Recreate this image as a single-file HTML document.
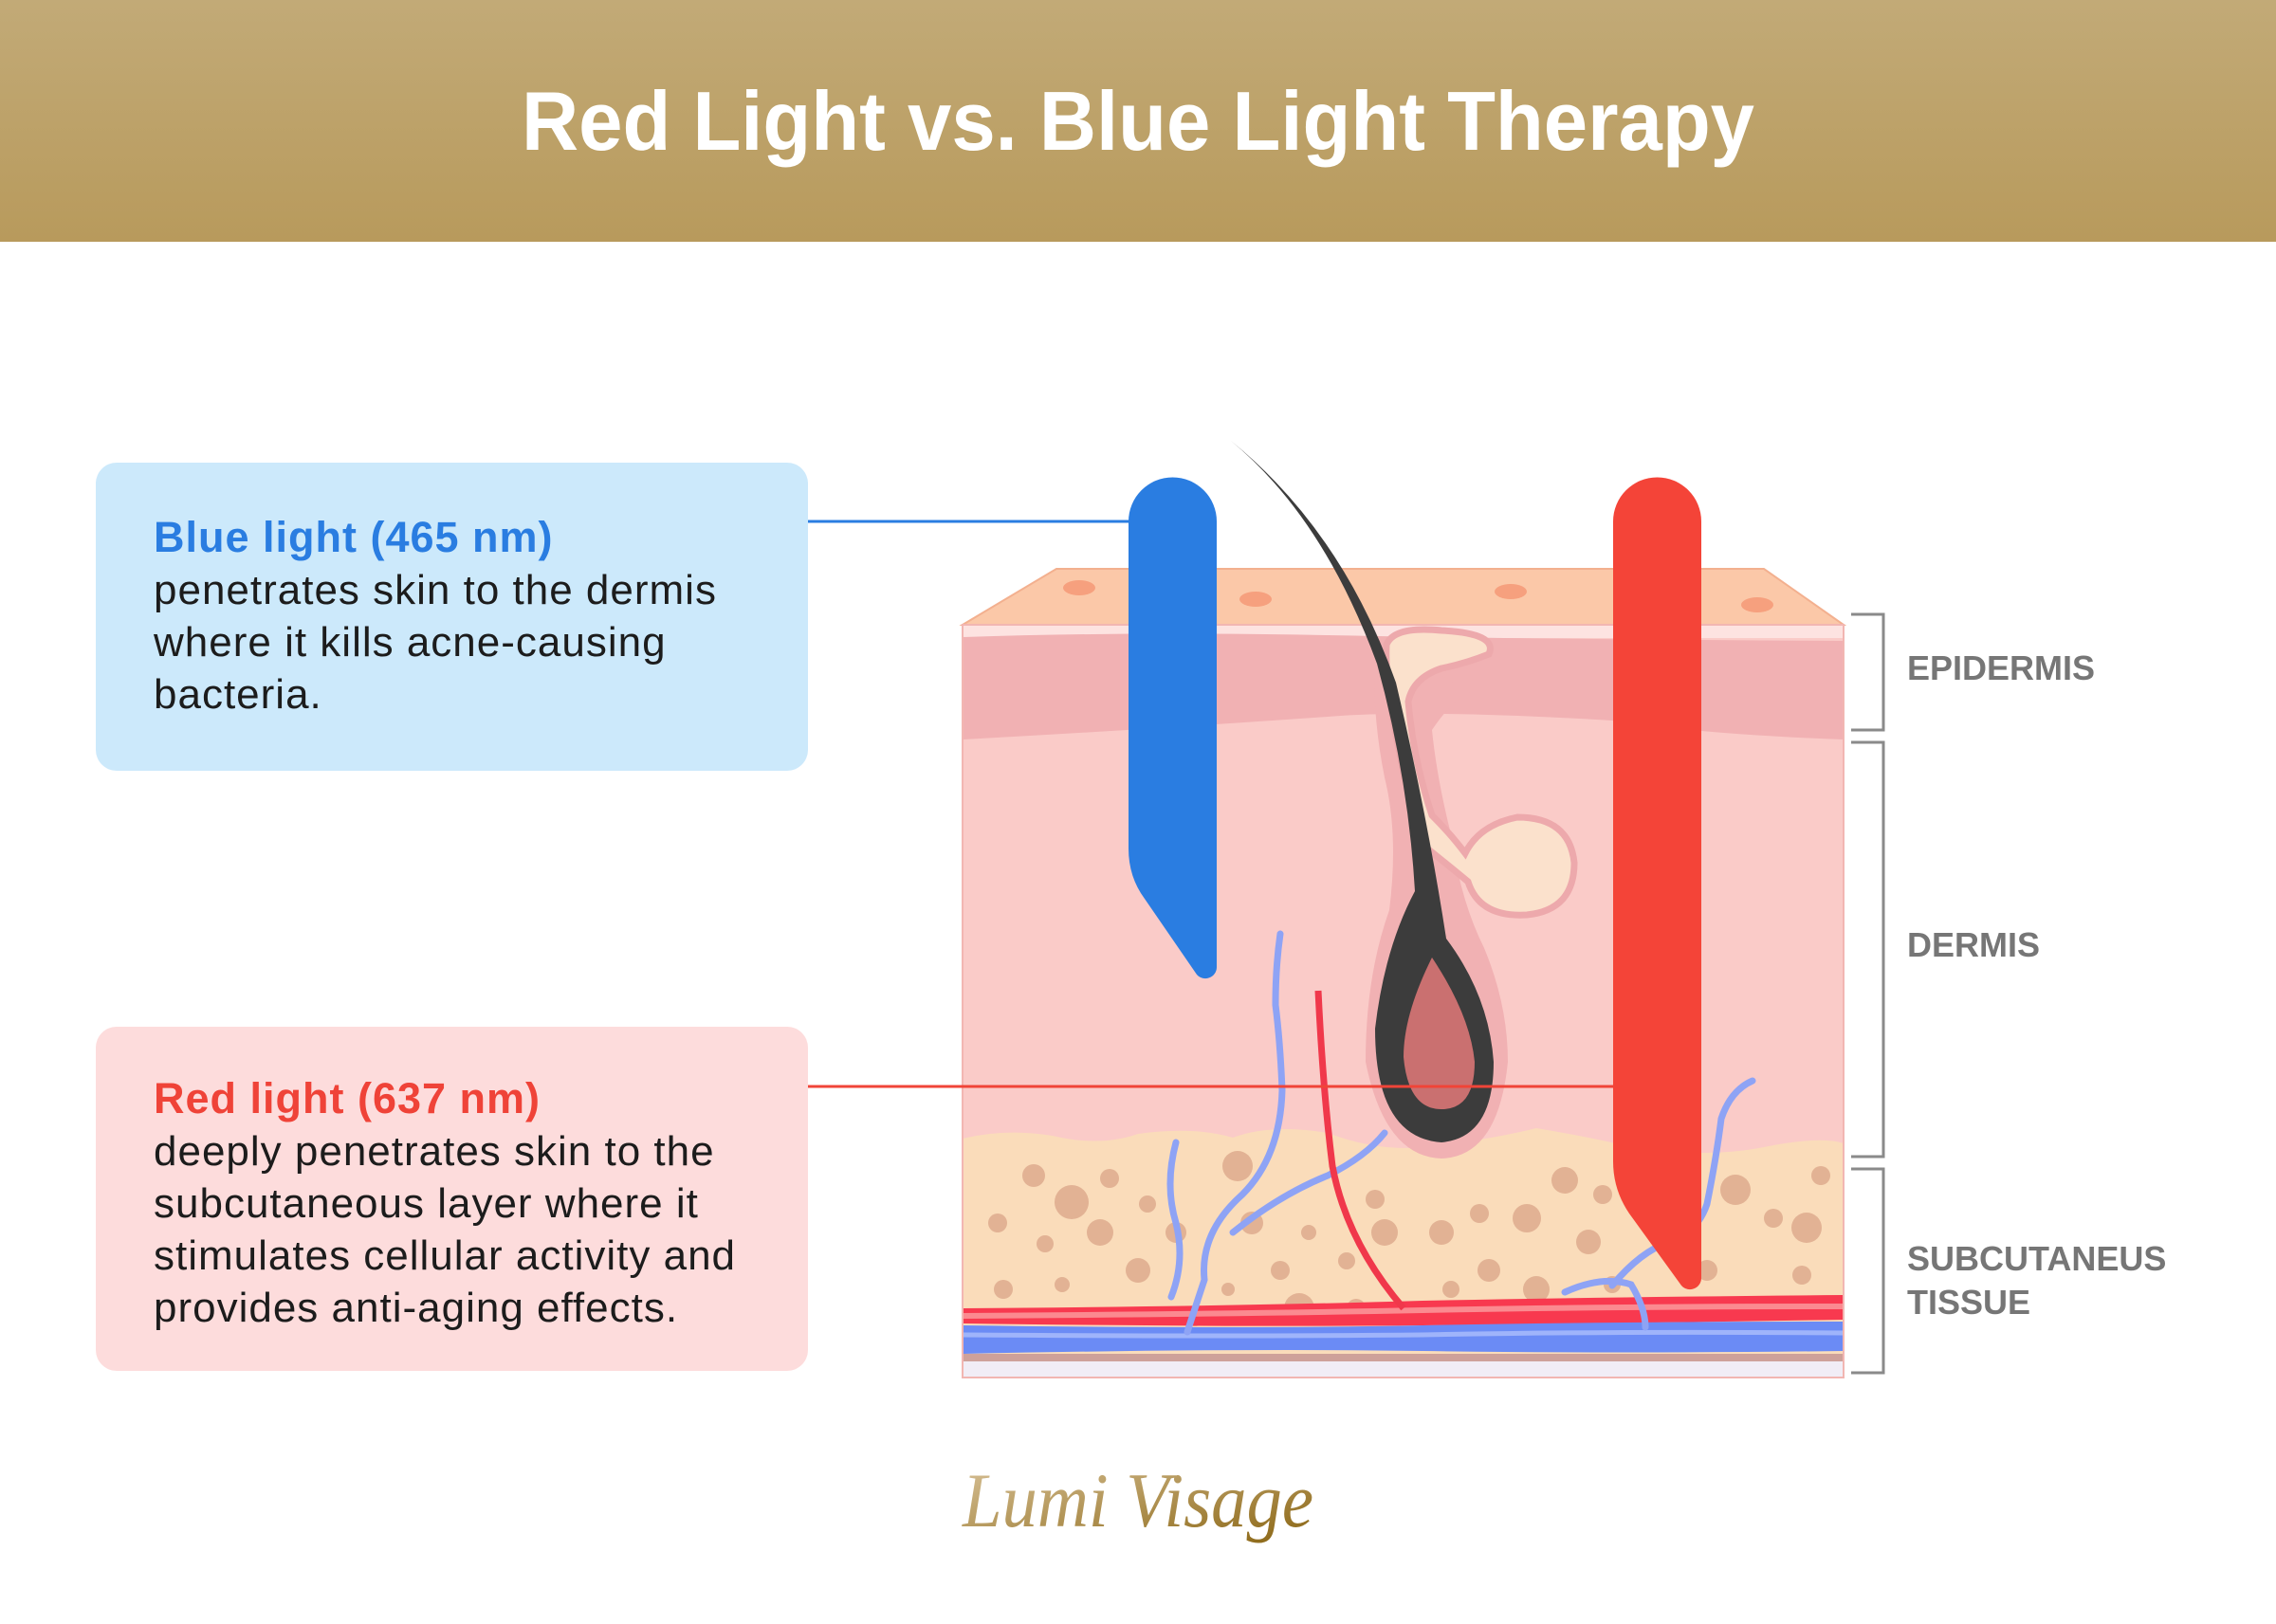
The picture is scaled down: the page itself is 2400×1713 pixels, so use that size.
<!DOCTYPE html>
<html><head><meta charset="utf-8"><style>html,body{margin:0;padding:0;background:#fff}svg{display:block}</style></head>
<body>
<svg width="2400" height="1713" viewBox="0 0 2400 1713" xmlns="http://www.w3.org/2000/svg" font-family="Liberation Sans, sans-serif">
<defs>
<linearGradient id="hdr" x1="0" y1="0" x2="0" y2="1"><stop offset="0" stop-color="#c2aa77"/><stop offset="1" stop-color="#b89a5c"/></linearGradient>
<linearGradient id="gold" x1="0" y1="0" x2="1" y2="1"><stop offset="0" stop-color="#d9c39a"/><stop offset="1" stop-color="#8a6512"/></linearGradient>
<clipPath id="blk"><rect x="1015" y="659" width="929" height="794"/></clipPath>
</defs>
<rect width="2400" height="1713" fill="#fff"/>
<rect width="2400" height="255" fill="url(#hdr)"/>
<text x="1200" y="158" text-anchor="middle" fill="#fff" font-weight="bold" font-size="88" textLength="1300" lengthAdjust="spacingAndGlyphs">Red Light vs. Blue Light Therapy</text>

<rect x="101" y="488" width="751" height="325" rx="22" fill="#cce9fb"/>
<g font-size="44" fill="#1c1c1c" letter-spacing="1">
<text x="162" y="582" fill="#2a7de1" font-weight="bold" font-size="45">Blue light (465 nm)</text>
<text x="162" y="637">penetrates skin to the dermis</text>
<text x="162" y="692">where it kills acne-causing</text>
<text x="162" y="747">bacteria.</text>
</g>
<rect x="101" y="1083" width="751" height="363" rx="22" fill="#fddcdc"/>
<g font-size="44" fill="#1c1c1c" letter-spacing="1">
<text x="162" y="1174" fill="#ef4338" font-weight="bold" font-size="45">Red light (637 nm)</text>
<text x="162" y="1229">deeply penetrates skin to the</text>
<text x="162" y="1284">subcutaneous layer where it</text>
<text x="162" y="1339">stimulates cellular activity and</text>
<text x="162" y="1394">provides anti-aging effects.</text>
</g>

<polygon points="1015,659 1114,600 1860,600 1944,659" fill="#fbc8a8" stroke="#f3b08f" stroke-width="2"/>
<ellipse cx="1138" cy="620" rx="17" ry="8" fill="#f6a07e"/>
<ellipse cx="1324" cy="632" rx="17" ry="8" fill="#f6a07e"/>
<ellipse cx="1593" cy="624" rx="17" ry="8" fill="#f6a07e"/>
<ellipse cx="1853" cy="638" rx="17" ry="8" fill="#f6a07e"/>
<g clip-path="url(#blk)">
<rect x="1015" y="659" width="929" height="794" fill="#facbc8"/>
<rect x="1015" y="659" width="929" height="14" fill="#fde3e1"/>
<path d="M1015,672 Q1200,666 1400,670 T1944,676 L1944,780 Q1800,775 1700,760 Q1500,748 1400,756 Q1200,770 1015,780 Z" fill="#f1b1b3"/>
<path d="M1015,1201 Q1060,1190 1110,1198 Q1160,1210 1200,1196 Q1260,1188 1300,1200 Q1340,1185 1400,1195 Q1460,1218 1520,1208 Q1580,1200 1620,1190 Q1680,1200 1720,1210 Q1800,1222 1860,1210 Q1920,1198 1944,1206 L1944,1453 L1015,1453 Z" fill="#fadcba"/>
<g fill="#e2b294">
<circle cx="1090" cy="1240" r="12"/><circle cx="1130" cy="1268" r="18"/><circle cx="1170" cy="1243" r="10"/><circle cx="1052" cy="1290" r="10"/><circle cx="1102" cy="1312" r="9"/><circle cx="1160" cy="1300" r="14"/><circle cx="1210" cy="1270" r="9"/><circle cx="1200" cy="1340" r="13"/><circle cx="1058" cy="1360" r="10"/><circle cx="1120" cy="1355" r="8"/><circle cx="1240" cy="1300" r="11"/><circle cx="1305" cy="1230" r="16"/><circle cx="1320" cy="1290" r="12"/><circle cx="1350" cy="1340" r="10"/><circle cx="1380" cy="1300" r="8"/><circle cx="1370" cy="1380" r="16"/><circle cx="1420" cy="1330" r="9"/><circle cx="1450" cy="1265" r="10"/><circle cx="1460" cy="1300" r="14"/><circle cx="1430" cy="1380" r="10"/><circle cx="1520" cy="1300" r="13"/><circle cx="1560" cy="1280" r="10"/><circle cx="1530" cy="1360" r="9"/><circle cx="1570" cy="1340" r="12"/><circle cx="1610" cy="1285" r="15"/><circle cx="1620" cy="1360" r="14"/><circle cx="1650" cy="1245" r="14"/><circle cx="1690" cy="1260" r="10"/><circle cx="1675" cy="1310" r="13"/><circle cx="1700" cy="1355" r="9"/><circle cx="1755" cy="1310" r="10"/><circle cx="1800" cy="1340" r="11"/><circle cx="1830" cy="1255" r="16"/><circle cx="1870" cy="1285" r="10"/><circle cx="1905" cy="1295" r="16"/><circle cx="1920" cy="1240" r="10"/><circle cx="1900" cy="1345" r="10"/><circle cx="1260" cy="1390" r="9"/><circle cx="1295" cy="1360" r="7"/><circle cx="1720" cy="1400" r="9"/>
</g>
<path d="M1015,1380 Q1300,1378 1500,1372 Q1700,1368 1944,1366 L1944,1392 Q1700,1396 1500,1398 Q1300,1400 1015,1396 Z" fill="#f8394f"/>
<path d="M1015,1388 Q1300,1386 1500,1382 Q1700,1378 1944,1378" stroke="#fb8a90" stroke-width="6" fill="none"/>
<path d="M1015,1398 Q1300,1402 1500,1398 Q1700,1394 1944,1394 L1944,1425 Q1700,1428 1500,1425 Q1300,1422 1015,1428 Z" fill="#6b8bf5"/>
<path d="M1015,1408 Q1300,1410 1500,1408 Q1700,1404 1944,1406" stroke="#9fb4fb" stroke-width="5" fill="none"/>
<rect x="1015" y="1428" width="929" height="8" fill="#cea19a"/>
<rect x="1015" y="1436" width="929" height="17" fill="#f1edf6"/>
<path d="M1235,1368 Q1250,1330 1240,1290 Q1228,1250 1240,1205 M1252,1405 Q1260,1380 1270,1350 Q1265,1300 1310,1260 Q1350,1220 1352,1150 Q1350,1100 1345,1060 Q1345,1020 1350,985 M1300,1300 Q1350,1260 1400,1240 Q1440,1220 1460,1195 M1650,1363 Q1690,1345 1720,1355 Q1735,1380 1735,1400 M1700,1356 Q1730,1320 1760,1310 Q1790,1300 1800,1270 Q1810,1220 1815,1180 Q1825,1150 1848,1140" stroke="#8ea3f5" stroke-width="7" fill="none" stroke-linecap="round"/>
<path d="M1390,1045 Q1395,1150 1405,1230 Q1420,1310 1480,1380" stroke="#f0384b" stroke-width="7" fill="none"/>
</g>
<rect x="1015" y="659" width="929" height="794" fill="none" stroke="#f2b6b2" stroke-width="2"/>

<path d="M1452,672 Q1444,740 1460,820 Q1475,880 1465,960 Q1440,1030 1440,1120 Q1460,1220 1520,1222 Q1580,1220 1590,1120 Q1590,1060 1565,1000 Q1540,950 1530,880 Q1515,820 1510,770 Q1530,740 1550,730 Z" fill="#f1b1b3"/>
<path d="M1462,680 Q1470,660 1520,665 Q1580,668 1570,690 Q1545,700 1520,705 Q1490,715 1485,740 Q1490,800 1510,860 Q1530,880 1545,900 Q1560,870 1600,862 Q1655,862 1660,910 Q1660,960 1610,965 Q1560,968 1548,930 Q1530,915 1505,895 Q1485,850 1475,790 Q1460,720 1462,680 Z" fill="#fbe1cc" stroke="#eda9ac" stroke-width="7"/>
<path d="M1298,465 Q1395,545 1452,700 Q1485,820 1492,940 Q1460,1000 1450,1085 Q1450,1200 1520,1205 Q1575,1200 1575,1120 Q1570,1050 1525,990 Q1505,860 1472,720 Q1415,560 1298,465 Z" fill="#3c3c3c"/>
<path d="M1510,1010 Q1480,1070 1480,1115 Q1485,1170 1520,1170 Q1555,1170 1555,1120 Q1550,1070 1510,1010 Z" fill="#ca7070"/>

<line x1="852" y1="550" x2="1192" y2="550" stroke="#2a7de1" stroke-width="3"/>
<path d="M1190,550 A46.5,46.5 0 0 1 1283,550 L1283,1020 A12,12 0 0 1 1262,1028 L1207,948 Q1190,925 1190,895 Z" fill="#2a7de1"/>
<line x1="852" y1="1146" x2="1703" y2="1146" stroke="#f04438" stroke-width="3"/>
<path d="M1701,550 A46.5,46.5 0 0 1 1794,550 L1794,1348 A12,12 0 0 1 1773,1356 L1718,1280 Q1701,1255 1701,1225 Z" fill="#f44438"/>

<g stroke="#8a8a8a" stroke-width="3" fill="none">
<polyline points="1952,648 1986,648 1986,770 1952,770"/>
<polyline points="1952,783 1986,783 1986,1220 1952,1220"/>
<polyline points="1952,1233 1986,1233 1986,1448 1952,1448"/>
</g>
<g fill="#767676" font-weight="bold" font-size="36">
<text x="2011" y="717">EPIDERMIS</text>
<text x="2011" y="1009">DERMIS</text>
<text x="2011" y="1340">SUBCUTANEUS</text>
<text x="2011" y="1386">TISSUE</text>
</g>

<text x="1200" y="1610" text-anchor="middle" font-family="Liberation Serif, serif" font-style="italic" font-size="82" fill="url(#gold)" textLength="370" lengthAdjust="spacingAndGlyphs">Lumi Visage</text>
</svg>
</body></html>
